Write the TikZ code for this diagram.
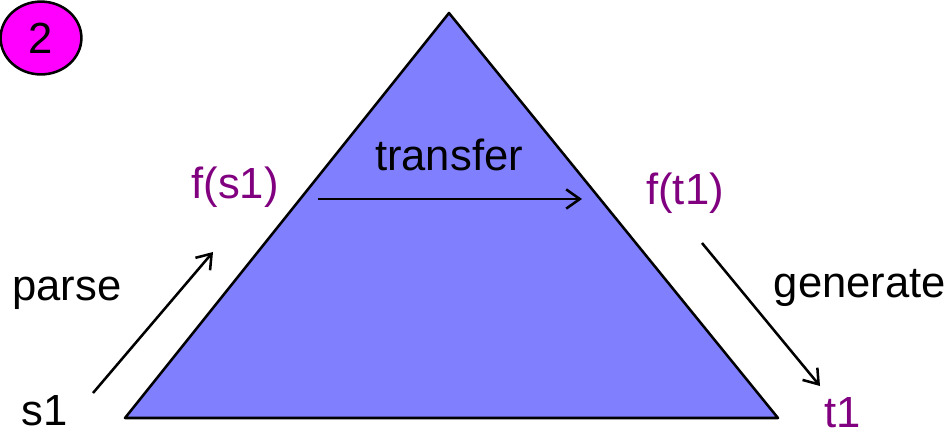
\documentclass[tikz,border=0pt]{standalone}
\usepackage{fontspec}
\setmainfont{Liberation Sans}
\usetikzlibrary{positioning, arrows.meta, shapes.geometric}

\definecolor{treeblue}{HTML}{8080FF}
\definecolor{labelpurple}{HTML}{800080}
\definecolor{badgemagenta}{HTML}{FF00FF}

\begin{document}
\begin{tikzpicture}[
    x=0.025cm, y=-0.025cm,
    >={Straight Barb[length=3.4mm, width=4.8mm]},
    arrow/.style={
        ->,
        line width=1.8pt
    },
    label/.style={
        font=\fontsize{31}{36}\selectfont,
        inner sep=0pt,
        text=black
    },
    term/.style={
        label,
        text=labelpurple
    },
    badge/.style={
        ellipse,
        draw,
        line width=1.8pt,
        fill=badgemagenta,
        inner sep=0pt,
        minimum width=2.02cm,
        minimum height=1.82cm,
        font=\fontsize{31}{36}\selectfont
    }
]
    \useasboundingbox (0,0) rectangle (949,437);

    % Triangle
    \coordinate (apex) at (449,13);
    \coordinate (baseL) at (125,418);
    \coordinate (baseR) at (778,418);
    \draw[fill=treeblue, line width=1.8pt, line join=round] (apex) -- (baseR) -- (baseL) -- cycle;

    % Badge
    \node[badge] (num) at (41,38) {2};

    % Labels
    \node[label] (s1) at (45,411) {s1};
    \node[label] (parse) at (67,293) {parse};
    \node[term] (fs1) at (235,187) {f(s1)};
    \node[label] (transfer) at (449,155) {transfer};
    \node[term] (ft1) at (685,193) {f(t1)};
    \node[label] (generate) at (860,288) {generate};
    \node[term] (t1) at (843,413) {t1};

    % Arrows
    \coordinate (parseA) at (93,393);
    \coordinate (parseB) at (213,252);
    \draw[arrow] (parseA) -- (parseB);

    \coordinate (transA) at (318,199);
    \coordinate (transB) at (582,199);
    \draw[arrow] (transA) -- (transB);

    \coordinate (genA) at (702,243);
    \coordinate (genB) at (820,386);
    \draw[arrow] (genA) -- (genB);

\end{tikzpicture}
\end{document}
